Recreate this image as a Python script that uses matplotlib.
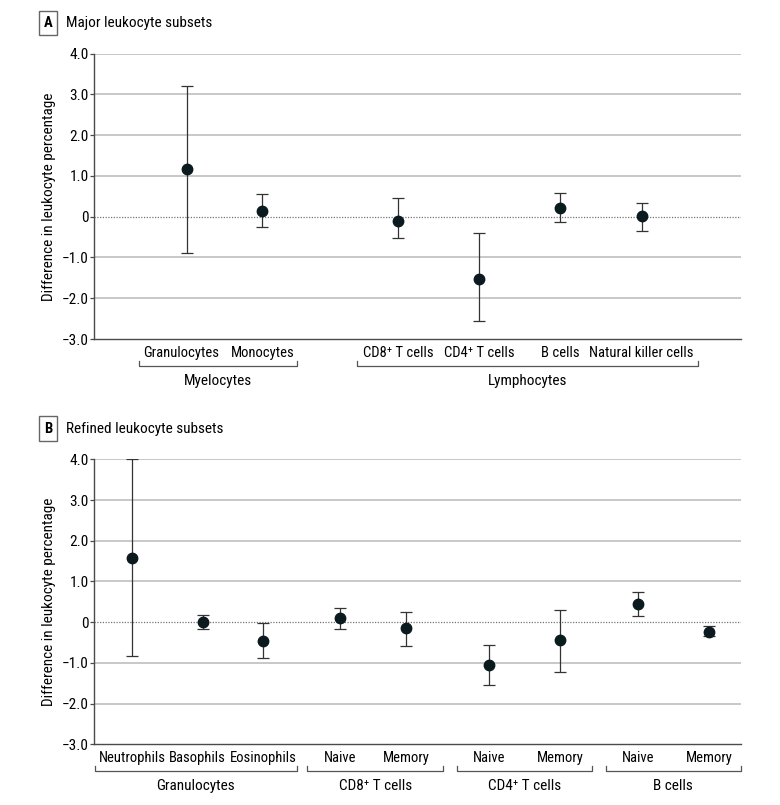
import matplotlib
matplotlib.use('Agg')
import matplotlib.pyplot as plt
from matplotlib.transforms import blended_transform_factory

plt.rcParams['font.family'] = ['Liberation Sans Narrow', 'DejaVu Sans Condensed',
                               'Roboto Condensed', 'DejaVu Sans']
plt.rcParams['font.stretch'] = 'condensed'

# panel A: major leukocyte subsets
a_labels = ['Granulocytes', 'Monocytes', 'CD8\u207a T cells', 'CD4\u207a T cells',
            'B cells', 'Natural killer cells']
a_est = [1.17, 0.15, -0.10, -1.52, 0.22, 0.01]
a_low = [-0.90, -0.26, -0.53, -2.56, -0.12, -0.35]
a_high = [3.20, 0.55, 0.45, -0.41, 0.59, 0.34]
a_groups = ['Myelocytes', 'Lymphocytes']

# panel B: refined leukocyte subsets
b_labels = ['Neutrophils', 'Basophils', 'Eosinophils', 'Naive', 'Memory',
            'Naive', 'Memory', 'Naive', 'Memory']
b_est = [1.58, 0.01, -0.46, 0.09, -0.15, -1.06, -0.45, 0.44, -0.23]
b_low = [-0.83, -0.18, -0.87, -0.18, -0.59, -1.55, -1.22, 0.15, -0.35]
b_high = [4.00, 0.18, -0.03, 0.36, 0.26, -0.57, 0.29, 0.74, -0.09]
b_groups = ['Granulocytes', 'CD8\u207a T cells', 'CD4\u207a T cells', 'B cells']

yticks = [-3, -2, -1, 0, 1, 2, 3, 4]
ytick_labels = ['\u22123.0', '\u22122.0', '\u22121.0', '0', '1.0', '2.0', '3.0', '4.0']

# layout (horizontal positions in axis pixel units, 0..647)
a_pos = [92.7, 168.3, 304.3, 385.3, 466.3, 547.7]
a_lab_pos = [87.5, 168.3, 304.3, 385.3, 466.3, 547.7]
a_brackets = [(45.3, 203.3), (262.7, 604.3)]
b_pos = [38, 109, 169, 246.3, 312, 395.3, 466.3, 543.7, 615]
b_lab_pos = [38, 103.5, 169, 246.3, 312, 395.3, 466.3, 543.7, 615]
b_brackets = [(0.5, 203.3), (213.3, 349.3), (362.7, 498.3), (511.7, 646.5)]

W, H = 780, 805
fig = plt.figure(figsize=(W / 100, H / 100), dpi=100)

grid_c = '#c4c4c4'
dark = '#4a4a4a'
mark_c = '#0b1a1e'


def panel(rect, pos, lab_pos, est, low, high, labels, groups, brackets, letter, title, title_y):
    ax = fig.add_axes(rect)
    ax.set_xlim(0, 647)
    ax.set_ylim(-3, 4)
    for y in yticks:
        if y == 0:
            ax.axhline(0, color='#777777', lw=0.9, ls=(0, (1, 1.2)), zorder=1)
        elif y != -3:
            ax.axhline(y, color=grid_c, lw=1.3, zorder=0)
    yerr = [[e - l for e, l in zip(est, low)], [h - e for e, h in zip(est, high)]]
    ax.errorbar(pos, est, yerr=yerr, fmt='o', color=mark_c, ms=7.5,
                ecolor='#333333', elinewidth=0.9, capsize=4, capthick=0.9, zorder=3)
    ax.set_yticks(yticks)
    ax.set_yticklabels(ytick_labels, fontsize=11)
    ax.set_xticks(lab_pos)
    ax.set_xticklabels(labels, fontsize=10.5)
    ax.tick_params(axis='x', length=0, pad=5)
    ax.tick_params(axis='y', length=3, width=0.9, color=dark, pad=1)
    for s in ['top', 'right']:
        ax.spines[s].set_visible(False)
    for s in ['left', 'bottom']:
        ax.spines[s].set_color(dark)
        ax.spines[s].set_linewidth(1.0)
    ax.set_ylabel('Difference in leukocyte percentage', fontsize=11, labelpad=4)

    tr = blended_transform_factory(ax.transData, ax.transAxes)
    for (x0, x1), g in zip(brackets, groups):
        ax.plot([x0, x0, x1, x1], [-0.077, -0.093, -0.093, -0.077], color='#555555',
                lw=0.9, transform=tr, clip_on=False)
        ax.text((x0 + x1) / 2, -0.148, g, transform=tr, ha='center', va='center',
                fontsize=11)

    fig.text(48 / W, 1 - title_y / H, letter, fontsize=10.5, fontweight='bold',
             ha='center', va='center',
             bbox=dict(boxstyle='square,pad=0.35', fc='white', ec='#666666', lw=1))
    fig.text(66 / W, 1 - title_y / H, title, fontsize=11, ha='left', va='center')
    return ax


def rect(top, bottom):
    return [94 / W, 1 - bottom / H, (741 - 94) / W, (bottom - top) / H]


panel(rect(53.7, 339), a_pos, a_lab_pos, a_est, a_low, a_high, a_labels, a_groups,
      a_brackets, 'A', 'Major leukocyte subsets', 23)
panel(rect(459.3, 744.3), b_pos, b_lab_pos, b_est, b_low, b_high, b_labels, b_groups,
      b_brackets, 'B', 'Refined leukocyte subsets', 428.5)

fig.savefig('out.png', dpi=100)
